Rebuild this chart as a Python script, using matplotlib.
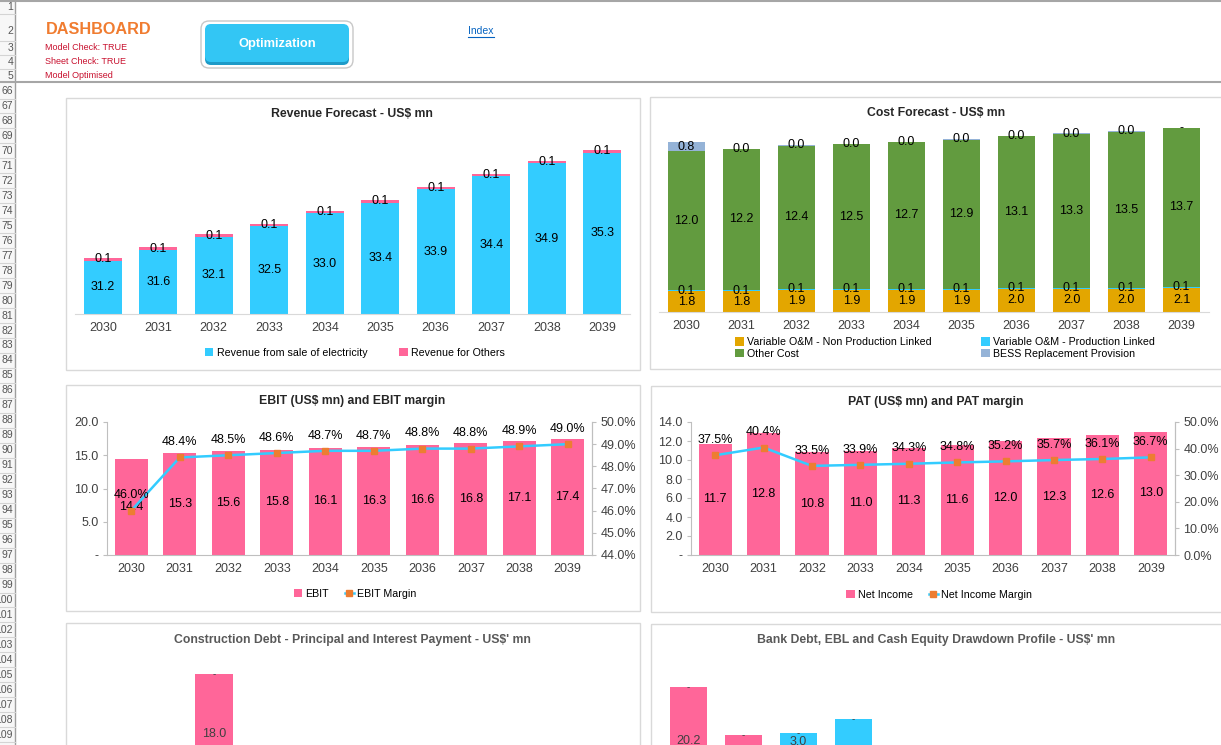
import numpy as np
import matplotlib.pyplot as plt
from matplotlib.patches import Rectangle, FancyBboxPatch
from matplotlib.ticker import FuncFormatter

W, H = 1221, 745
plt.rcParams['font.family'] = ['Liberation Sans Narrow', 'Liberation Sans', 'DejaVu Sans']

years = ['2030', '2031', '2032', '2033', '2034', '2035', '2036', '2037', '2038', '2039']

# revenue (US$ mn)
rev_electricity = [31.2, 31.6, 32.1, 32.5, 33.0, 33.4, 33.9, 34.4, 34.9, 35.3]
rev_others = [0.1, 0.1, 0.1, 0.1, 0.1, 0.1, 0.1, 0.1, 0.1, 0.1]

# cost (US$ mn)
var_non_prod = [1.8, 1.8, 1.9, 1.9, 1.9, 1.9, 2.0, 2.0, 2.0, 2.1]
var_prod = [0.1, 0.1, 0.1, 0.1, 0.1, 0.1, 0.1, 0.1, 0.1, 0.1]
other_cost = [12.0, 12.2, 12.4, 12.5, 12.7, 12.9, 13.1, 13.3, 13.5, 13.7]
bess = [0.8, 0.04, 0.04, 0.04, 0.04, 0.04, 0.04, 0.04, 0.04, 0.0]

# EBIT and PAT
ebit = [14.4, 15.3, 15.6, 15.8, 16.1, 16.3, 16.6, 16.8, 17.1, 17.4]
ebit_margin = [0.460, 0.484, 0.485, 0.486, 0.487, 0.487, 0.488, 0.488, 0.489, 0.490]
net_income = [11.7, 12.8, 10.8, 11.0, 11.3, 11.6, 12.0, 12.3, 12.6, 13.0]
ni_margin = [0.375, 0.404, 0.335, 0.339, 0.343, 0.348, 0.352, 0.357, 0.361, 0.367]

# bottom charts (only partly visible)
constr_principal = [0.0, 0.0, 18.0, 0.0, 0.0, 0.0, 0.0, 0.0, 0.0, 0.0]
constr_interest = [0.0, 0.0, 0.0, 0.0, 0.0, 0.0, 0.0, 0.0, 0.0, 0.0]
bank_debt = [20.2, 11.2, 8.6, 1.2]
ebl = [0.0, 0.0, 0.0, 0.0]
cash_equity = [0.0, 0.0, 3.0, 13.0]

PINK = '#FF6699'
CYAN = '#33CCFF'
GOLD = '#E3A600'
GREEN = '#629B3F'
LBLUE = '#95B3D7'
ORANGE = '#ED7D31'
TXT = '#262626'
TICK = '#404040'

fig = plt.figure(figsize=(W / 100, H / 100), dpi=100)
bg = fig.add_axes([0, 0, 1, 1], zorder=0)
bg.set_xlim(0, W)
bg.set_ylim(H, 0)
bg.axis('off')


def add_ax(x0, y0, x1, y1):
    a = fig.add_axes([x0 / W, 1 - y1 / H, (x1 - x0) / W, (y1 - y0) / H], zorder=2)
    a.set_facecolor('none')
    return a


def fmt1(v):
    return '-' if v == 0 else f'{v:.1f}'


# spreadsheet decorations
bg.add_patch(Rectangle((0, 0), 14.5, H, color='#F7F7F7', lw=0))
bg.plot([14.5, 14.5], [0, H], color='#9E9E9E', lw=1)
bg.plot([0, W], [0.5, 0.5], color='#A6A6A6', lw=1.5)
bg.plot([0, W], [82, 82], color='#A6A6A6', lw=1.5)
top_rows = [(1, 7), (2, 31), (3, 48), (4, 62), (5, 76)]
for r, yc in top_rows:
    bg.text(13, yc, str(r), ha='right', va='center', fontsize=7.5, color='#555555', family='Liberation Sans')
for yl in [14, 41, 55, 69]:
    bg.plot([0, 14.5], [yl, yl], color='#D4D4D4', lw=0.8)
for k, r in enumerate(range(66, 110)):
    yc = 91 + 14.97 * k
    bg.text(13, yc, str(r), ha='right', va='center', fontsize=7.5, color='#555555', family='Liberation Sans')
    bg.plot([0, 14.5], [yc + 7.5, yc + 7.5], color='#D4D4D4', lw=0.8)

bg.text(46, 29, 'DASHBOARD', ha='left', va='center', fontsize=11.7, fontweight='bold',
        color='#F07C30', family='Liberation Sans')
for t, yc in [('Model Check: TRUE', 47), ('Sheet Check: TRUE', 61), ('Model Optimised', 75)]:
    bg.text(45, yc, t, ha='left', va='center', fontsize=6.5, color='#C8102E', family='Liberation Sans')

bg.add_patch(FancyBboxPatch((201, 21), 152, 47, boxstyle='round,pad=0,rounding_size=8',
                            fc='white', ec='#C8C8C8', lw=1))
bg.add_patch(FancyBboxPatch((205, 26), 144, 39, boxstyle='round,pad=0,rounding_size=6',
                            fc='#1E9BC8', ec='none'))
bg.add_patch(FancyBboxPatch((205, 24), 144, 38, boxstyle='round,pad=0,rounding_size=6',
                            fc='#33C6F4', ec='none'))
bg.text(277, 44, 'Optimization', ha='center', va='center', fontsize=9.3, fontweight='bold',
        color='white', family='Liberation Sans')
bg.text(468, 31, 'Index', ha='left', va='center', fontsize=7.5, color='#0563C1', family='Liberation Sans')
bg.plot([468, 494], [37, 37], color='#0563C1', lw=0.8)

# panel frames and titles
panels = [
    ((66, 98, 574, 272), 'Revenue Forecast - US$ mn', (352, 114), TXT),
    ((650, 97, 580, 272), 'Cost Forecast - US$ mn', (936, 113), TXT),
    ((66, 385, 574, 226), 'EBIT (US$ mn) and EBIT margin', (352, 401), TXT),
    ((651, 386, 580, 226), 'PAT (US$ mn) and PAT margin', (936, 402), TXT),
    ((66, 623, 574, 200), "Construction Debt - Principal and Interest Payment - US$' mn", (352, 640), '#595959'),
    ((651, 624, 580, 200), "Bank Debt, EBL and Cash Equity Drawdown Profile - US$' mn", (936, 640), '#595959'),
]
for (px, py, pw, ph), title, (tx, ty), tc in panels:
    bg.add_patch(Rectangle((px, py), pw, ph, fill=False, ec='#D9D9D9', lw=1))
    bg.text(tx, ty, title, ha='center', va='center', fontsize=8.8, fontweight='bold', color=tc)

x = np.arange(10)


def style_cat(a):
    for s in ['top', 'left', 'right']:
        a.spines[s].set_visible(False)
    a.spines['bottom'].set_color('#D9D9D9')
    a.set_yticks([])
    a.set_xlim(-0.5, 9.5)
    a.set_xticks(x, years)
    a.tick_params(axis='x', length=0, pad=6, labelsize=9, labelcolor=TICK)


def legend_at(a, handles, labels, cx, cy, ncol, **kw):
    a.legend(handles, labels, loc='center', bbox_to_anchor=(cx / W, 1 - cy / H),
             bbox_transform=fig.transFigure, ncol=ncol, frameon=False, fontsize=7.7,
             handlelength=0.8, handleheight=0.8, handletextpad=0.3, **kw)


# Revenue
ax1 = add_ax(75, 125, 630, 314)
r0 = 29.17
b1 = ax1.bar(x, rev_electricity, width=0.68, color=CYAN)
b2 = ax1.bar(x, rev_others, bottom=rev_electricity, width=0.68, color=PINK)
ax1.set_ylim(r0, 36.35)
style_cat(ax1)
for i in range(10):
    ax1.text(i, (r0 + rev_electricity[i]) / 2, fmt1(rev_electricity[i]), ha='center', va='center', fontsize=9, color='black')
    ax1.text(i, rev_electricity[i] + rev_others[i] / 2, fmt1(rev_others[i]), ha='center', va='center', fontsize=9, color='black')
legend_at(ax1, [b1, b2], ['Revenue from sale of electricity', 'Revenue for Others'], 355, 353, 2, columnspacing=3.0)

# Cost
ax2 = add_ax(659, 127, 1209, 312)
c_series = [var_non_prod, var_prod, other_cost, bess]
c_colors = [GOLD, CYAN, GREEN, LBLUE]
bottom = np.zeros(10)
c_bars = []
for vals, col in zip(c_series, c_colors):
    vals = np.array(vals)
    c_bars.append(ax2.bar(x, vals, bottom=bottom, width=0.68, color=col))
    for i in range(10):
        ax2.text(i, bottom[i] + vals[i] / 2, fmt1(vals[i]), ha='center', va='center', fontsize=9, color='black')
    bottom = bottom + vals
ax2.set_ylim(0, 16)
style_cat(ax2)
legend_at(ax2, [c_bars[0], c_bars[2], c_bars[1], c_bars[3]],
          ['Variable O&M - Non Production Linked', 'Other Cost',
           'Variable O&M - Production Linked', 'BESS Replacement Provision'],
          945, 348, 2, columnspacing=4.6, labelspacing=0.15)


def combo(a, bars, margin, ymax, ystep, rlim, rstep, label_b, label_l, legx, legy):
    bb = a.bar(x, bars, width=0.69, color=PINK)
    a.set_xlim(-0.5, 9.5)
    a.set_ylim(0, ymax)
    a.set_yticks(np.arange(0, ymax + 0.01, ystep))
    a.yaxis.set_major_formatter(FuncFormatter(lambda v, p: '-' if abs(v) < 1e-9 else f'{v:.1f}'))
    a.set_xticks(x, years)
    for s in ['left', 'right', 'bottom']:
        a.spines[s].set_color('#BFBFBF')
    a.spines['top'].set_visible(False)
    a.tick_params(axis='x', length=0, pad=6, labelsize=9, labelcolor=TICK)
    a.tick_params(axis='y', length=3, color='#BFBFBF', labelsize=9, labelcolor=TICK, pad=3)
    for i in range(10):
        a.text(i, bars[i] / 2, fmt1(bars[i]), ha='center', va='center', fontsize=9, color='black', zorder=5)
    r = a.twinx()
    r.set_ylim(*rlim)
    r.set_yticks(np.arange(rlim[0], rlim[1] + 1e-9, rstep))
    r.yaxis.set_major_formatter(FuncFormatter(lambda v, p: f'{v * 100:.1f}%'))
    for s in ['left', 'right', 'bottom', 'top']:
        r.spines[s].set_visible(False)
    r.spines['right'].set_visible(True)
    r.spines['right'].set_color('#BFBFBF')
    r.tick_params(axis='y', length=3, color='#BFBFBF', labelsize=9, labelcolor=TICK, pad=3)
    ln, = r.plot(x, margin, color=CYAN, lw=1.8, marker='s', ms=4.5, mfc=ORANGE, mec=ORANGE)
    for i in range(10):
        r.annotate(f'{margin[i] * 100:.1f}%', (i, margin[i]), xytext=(0, 11), textcoords='offset points',
                   ha='center', va='center', fontsize=9, color='black')
    legend_at(a, [bb, ln], [label_b, label_l], legx, legy, 2, columnspacing=1.5)
    a.get_legend().set_zorder(10)


ax3 = add_ax(107, 422, 592, 555)
combo(ax3, ebit, ebit_margin, 20, 5, (0.44, 0.50), 0.01, 'EBIT', 'EBIT Margin', 355, 594)
ax4 = add_ax(691, 422, 1175, 555)
combo(ax4, net_income, ni_margin, 14, 2, (0.0, 0.50), 0.1, 'Net Income', 'Net Income Margin', 939, 595)

# Construction debt (cut off at bottom)
ax5 = add_ax(75, 660, 630, 794)
ax5.bar(x, constr_principal, width=0.68, color=PINK)
ax5.bar(x, constr_interest, bottom=constr_principal, width=0.68, color=CYAN)
ax5.set_xlim(-0.5, 9.5)
ax5.set_ylim(0, 20.1)
ax5.axis('off')
for i in range(10):
    if constr_principal[i] > 0:
        ax5.text(i, constr_principal[i] / 2, fmt1(constr_principal[i]), ha='center', va='center', fontsize=9, color='#404040')
        ax5.text(i, constr_principal[i] + constr_interest[i], fmt1(constr_interest[i]), ha='center', va='center', fontsize=7, color='#404040')

# Bank debt, EBL, cash equity
ax6 = add_ax(661, 660, 1211, 795)
xb = np.arange(len(bank_debt))
ax6.bar(xb, bank_debt, width=0.68, color=PINK)
ax6.bar(xb, ebl, bottom=bank_debt, width=0.68, color='#7F7F7F')
tops = np.array(bank_debt) + np.array(ebl)
ax6.bar(xb, cash_equity, bottom=tops, width=0.68, color=CYAN)
ax6.set_xlim(-0.5, 9.5)
ax6.set_ylim(0, 25.2)
ax6.axis('off')
for i in range(len(bank_debt)):
    if bank_debt[i] > 5:
        ax6.text(i, bank_debt[i] / 2, fmt1(bank_debt[i]), ha='center', va='center', fontsize=9, color='#404040')
    if cash_equity[i] > 0:
        ax6.text(i, tops[i] + cash_equity[i] / 2 - 0.2, fmt1(cash_equity[i]), ha='center', va='center', fontsize=9, color='#404040')
    ax6.text(i, tops[i] + cash_equity[i] - 0.1, fmt1(ebl[i]), ha='center', va='center', fontsize=7, color='#404040')

fig.savefig('out.png', dpi=100)
